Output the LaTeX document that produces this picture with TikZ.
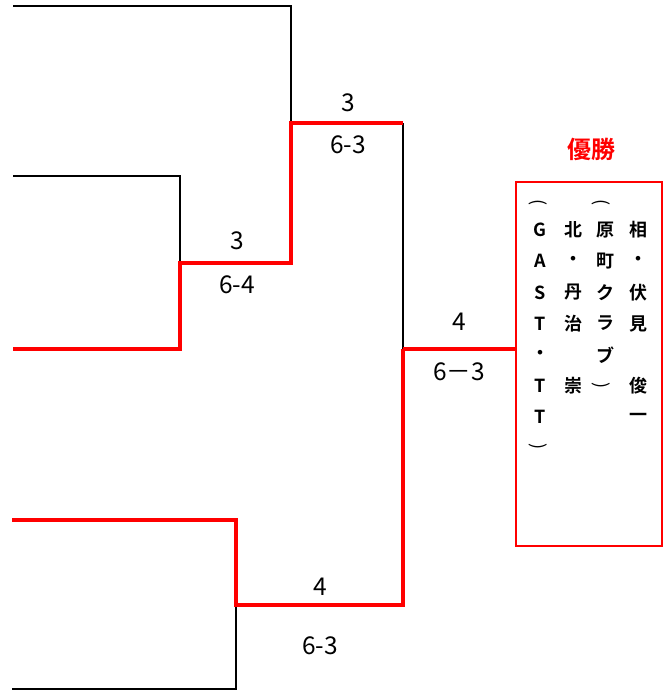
\documentclass[tikz,border=0pt]{standalone}
\usepackage{fontspec}
\newfontfamily\cjk{Noto Sans CJK JP}
\newfontfamily\cjkb{Noto Sans CJK JP Bold}
\begin{document}
\begin{tikzpicture}[x=1pt,y=-1pt,
  blk/.style={line width=2.5pt,black},
  win/.style={line width=4pt,red},
  score/.style={font=\cjk\fontsize{24.5}{24.5}\selectfont,inner sep=0pt},
  vch/.style={font=\cjkb\fontsize{18}{18}\selectfont,inner sep=0pt},
  vpar/.style={font=\cjk\fontsize{18}{18}\selectfont,inner sep=0pt},
  title/.style={font=\cjkb\fontsize{24}{24}\selectfont,text=red,inner sep=0pt},
  champbox/.style={draw=red,line width=2pt}
]
\useasboundingbox (0,0) rectangle (664,691);
% corner coordinates
\coordinate (a0) at (13,6);
\coordinate (a1) at (291,6);
\coordinate (b0) at (13,176);
\coordinate (b1) at (180,176);
\coordinate (c0) at (13,349);
\coordinate (c1) at (180,349);
\coordinate (m1) at (180,263);
\coordinate (m2) at (291,263);
\coordinate (s1) at (291,123);
\coordinate (s2) at (403,123);
\coordinate (f1) at (403,349);
\coordinate (d0) at (12,520);
\coordinate (d1) at (236,520);
\coordinate (e0) at (12,689);
\coordinate (e1) at (236,689);
\coordinate (n1) at (236,605);
\coordinate (n2) at (403,605);
\node[champbox,minimum width=146pt,minimum height=364pt,inner sep=0pt] (box) at (589,364) {};
% losers (black)
\draw[blk] (a0) -- (a1) -- (s1);
\draw[blk] (b0) -- (b1) -- (m1);
\draw[blk] (s2) -- (f1);
\draw[blk] (n1) -- (e1) -- (e0);
% winner path (red)
\draw[win,line join=miter] (c0) -- (c1) -- (m1) -- (m2) -- (s1) -- (s2);
\draw[win,line join=miter] (d0) -- (d1) -- (n1) -- (n2) -- (f1);
\draw[win] (f1) -- (f1 -| box.west);
% scores
\node[score] (l1) at (348,103) {3};
\node[score] (l2) at (348,145) {6-3};
\node[score] (l3) at (237,241) {3};
\node[score] (l4) at (237,285) {6-4};
\node[score] (l5) at (459,322) {4};
\node[score] (l6) at (459,372) {6－3};
\node[score] (l7) at (320,587) {4};
\node[score] (l8) at (320,646) {6-3};
% title
\node[title] (t) at (591,149) {優勝};
% vertical text
\def\ry#1{230+(#1-1)*31.2}
\foreach \c/\r in {相/1,・/2,伏/3,見/4,俊/6,一/7}
  \node[vch] at (638,{\ry{\r}}) {\c};
\foreach \c/\r in {原/1,町/2,ク/3,ラ/4,ブ/5}
  \node[vch] at (605,{\ry{\r}}) {\c};
\foreach \c/\r in {北/1,・/2,丹/3,治/4,崇/6}
  \node[vch] at (573,{\ry{\r}}) {\c};
\foreach \c/\r in {G/1,A/2,S/3,T/4,・/5,T/6,T/7}
  \node[vch] at (540,{\ry{\r}}) {\c};
% vertical brackets
\node[vpar] (p1) at (601,203) {\rotatebox{-90}{(}};
\node[vpar] (p2) at (601,386) {\rotatebox{-90}{)}};
\node[vpar] (p3) at (538,203) {\rotatebox{-90}{(}};
\node[vpar] (p4) at (538,447) {\rotatebox{-90}{)}};
\end{tikzpicture}
\end{document}
